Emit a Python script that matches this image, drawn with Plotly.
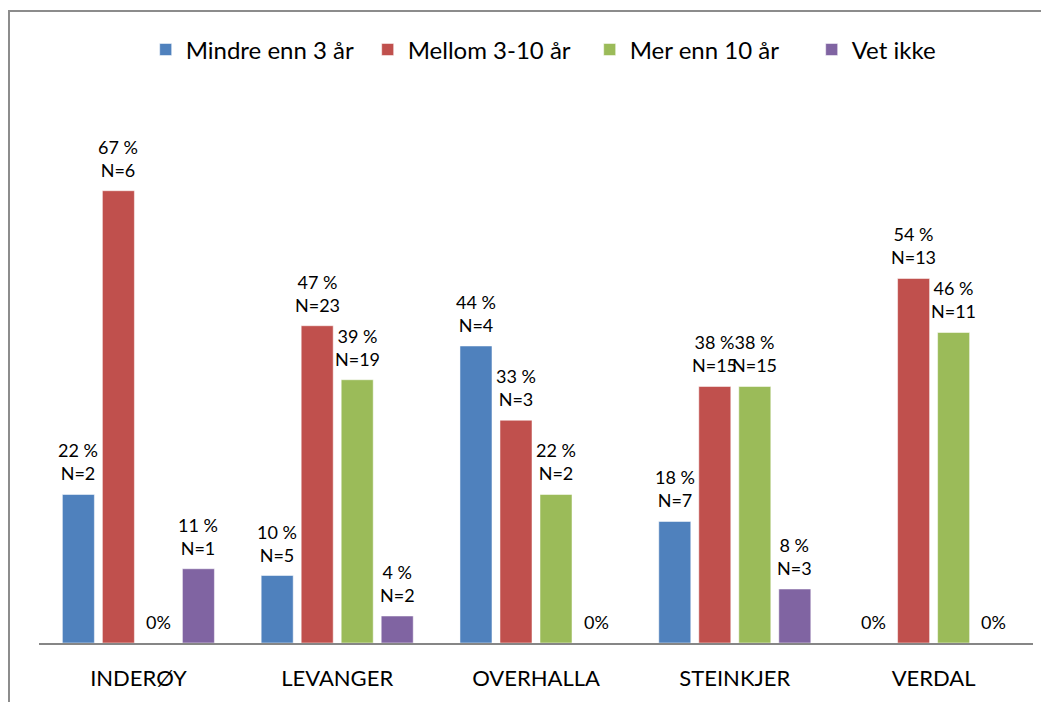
import plotly.graph_objects as go

categories = ["INDERØY", "LEVANGER", "OVERHALLA", "STEINKJER", "VERDAL"]
series_names = ["Mindre enn 3 år", "Mellom 3-10 år", "Mer enn 10 år", "Vet ikke"]
pct_mindre = [22, 10, 44, 18, 0]
pct_mellom = [67, 47, 33, 38, 54]
pct_mer = [0, 39, 22, 38, 46]
pct_vet = [11, 4, 0, 8, 0]
n_mindre = [2, 5, 4, 7, 0]
n_mellom = [6, 23, 3, 15, 13]
n_mer = [0, 19, 2, 15, 11]
n_vet = [1, 2, 0, 3, 0]
colors = ["#4F81BD", "#C0504D", "#9BBB59", "#8064A2"]

values = [pct_mindre, pct_mellom, pct_mer, pct_vet]
counts = [n_mindre, n_mellom, n_mer, n_vet]

FONT = "Lato"
bargap = 0.195
bargroupgap = 0.2

fig = go.Figure()
for name, vals, col in zip(series_names, values, colors):
    fig.add_trace(go.Bar(
        x=categories, y=vals, name=name,
        marker=dict(color=col, line=dict(color="rgba(255,255,255,0.5)", width=1)),
    ))

# data labels above bars
nser = len(series_names)
slot = (1 - bargap) / nser
annotations = []
for si, (vals, ns) in enumerate(zip(values, counts)):
    offset = -(1 - bargap) / 2 + slot * (si + 0.5)
    for ci, (v, n) in enumerate(zip(vals, ns)):
        txt = "0%" if v == 0 else f"{v} %<br>N={n}"
        annotations.append(dict(
            x=ci + offset, y=v, xref="x", yref="y", text=txt, showarrow=False,
            yanchor="bottom", xanchor="center", yshift=8,
            font=dict(family=FONT, size=18, color="#000000"),
        ))

fig.update_layout(
    width=1049, height=702,
    paper_bgcolor="white", plot_bgcolor="white",
    margin=dict(l=31, r=24, t=0, b=67),
    barmode="group", bargap=bargap, bargroupgap=bargroupgap,
    font=dict(family=FONT, color="#000000"),
    showlegend=True,
    legend=dict(orientation="h", x=0.554, xanchor="center", y=0.934, yanchor="middle",
                font=dict(family=FONT, size=24, color="#000000"),
                entrywidth=177, itemwidth=30,
                bgcolor="rgba(0,0,0,0)"),
    annotations=annotations,
    shapes=[dict(type="rect", xref="paper", yref="paper",
                 x0=-0.0302, x1=1.2, y0=-0.3, y1=0.9953,
                 line=dict(color="#8c8c8c", width=2), layer="below")],
)
fig.update_xaxes(showline=True, linecolor="#868686", linewidth=2, ticks="",
                 tickfont=dict(family=FONT, size=22, color="#000000"),
                 ticklabelstandoff=15, showgrid=False, automargin=False)
fig.update_yaxes(range=[0, 94.07], visible=False, showgrid=False, zeroline=False)

fig.write_html("out.html")
